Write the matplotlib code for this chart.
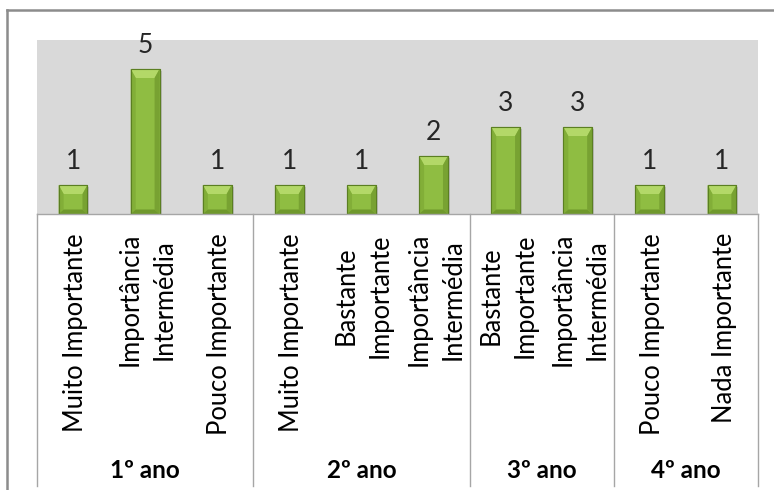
import numpy as np
import matplotlib
matplotlib.use('Agg')
import matplotlib.pyplot as plt
from matplotlib.patches import Polygon, Rectangle
from matplotlib.lines import Line2D

# data
categories = ['Muito Importante', 'Importância\nIntermédia', 'Pouco Importante',
              'Muito Importante', 'Bastante\nImportante', 'Importância\nIntermédia',
              'Bastante\nImportante', 'Importância\nIntermédia',
              'Pouco Importante', 'Nada Importante']
values = [1, 5, 1, 1, 1, 2, 3, 3, 1, 1]
groups = ['1º ano', '2º ano', '3º ano', '4º ano']
group_sizes = [3, 3, 2, 2]

plt.rcParams['font.family'] = ['Lato', 'DejaVu Sans']

W, H = 774, 490
fig = plt.figure(figsize=(W / 100, H / 100), dpi=100)
fig.patch.set_facecolor('white')

# plot area in pixels
left, right, top, base = 37, 758, 40, 214
ax = fig.add_axes([left / W, (H - base) / H, (right - left) / W, (base - top) / H])
ax.set_facecolor('#d9d9d9')
ymax = 6
ax.set_xlim(-0.5, len(values) - 0.5)
ax.set_ylim(0, ymax)
for s in ax.spines.values():
    s.set_visible(False)
ax.set_xticks([])
ax.set_yticks([])

x = np.arange(len(values))
bw = 0.4
sx = (right - left) / len(values)   # px per x unit
sy = (base - top) / ymax            # px per y unit

# soft shadow
for xi, v in zip(x, values):
    ax.add_patch(Rectangle((xi - bw / 2 + 2 / sx, -2 / sy), bw, v, color='#9a9a9a',
                           alpha=0.45, lw=0, zorder=1))

bars = ax.bar(x, values, bw, color='#8fbd42', edgecolor='#5b7f22', linewidth=0.8, zorder=2)

# bevel look
dx, dy = 5 / sx, 9 / sy
for b in bars:
    x0, x1, h = b.get_x(), b.get_x() + b.get_width(), b.get_height()
    face = [
        ([(x0, h), (x1, h), (x1 - dx, h - dy), (x0 + dx, h - dy)], '#b3d868'),
        ([(x0, 0), (x0, h), (x0 + dx, h - dy), (x0 + dx, dy * 0.5)], '#82ae38'),
        ([(x1, 0), (x1, h), (x1 - dx, h - dy), (x1 - dx, dy * 0.5)], '#78a232'),
        ([(x0, 0), (x1, 0), (x1 - dx, dy * 0.5), (x0 + dx, dy * 0.5)], '#6f982c'),
    ]
    for pts, c in face:
        ax.add_patch(Polygon(pts, closed=True, color=c, lw=0, zorder=3))
    ax.add_patch(Rectangle((x0, 0), x1 - x0, h, fill=False, ec='#5b7f22', lw=0.8, zorder=4))

# value labels
for xi, v in zip(x, values):
    ax.annotate(str(v), (xi, v), xytext=(0, 11.5), textcoords='offset points',
                ha='center', va='baseline', fontsize=19, color='#262626')

# category box lines
xt = ax.get_xaxis_transform()
ax.plot([-0.5, len(values) - 0.5], [0, 0], color='#a6a6a6', lw=1, clip_on=False, zorder=5)
bounds = np.concatenate([[0], np.cumsum(group_sizes)]) - 0.5
low = (base - 486) / (base - top)
for bx in bounds:
    ax.plot([bx, bx], [0, low], transform=xt, color='#a6a6a6', lw=1, clip_on=False)

# category labels
lab_y = (base - 233) / (base - top)
for xi, c in zip(x, categories):
    ax.text(xi + 0.03, lab_y, c, transform=xt, rotation=90, ha='center', va='top',
            multialignment='center', linespacing=1.45, fontsize=18.4, color='black')

# group labels
grp_y = (base - 470) / (base - top)
for i, g in enumerate(groups):
    cx = (bounds[i] + bounds[i + 1]) / 2
    ax.text(cx, grp_y, g, transform=xt, ha='center', va='center',
            fontsize=17.5, fontweight='bold', color='black')

# outer chart border
fig.add_artist(Line2D([7 / W, 1], [(H - 10) / H] * 2, transform=fig.transFigure,
                      color='#8c8c8c', lw=1.8))
fig.add_artist(Line2D([7 / W] * 2, [0, (H - 10) / H], transform=fig.transFigure,
                      color='#8c8c8c', lw=1.8))

fig.savefig('out.png', dpi=100)
